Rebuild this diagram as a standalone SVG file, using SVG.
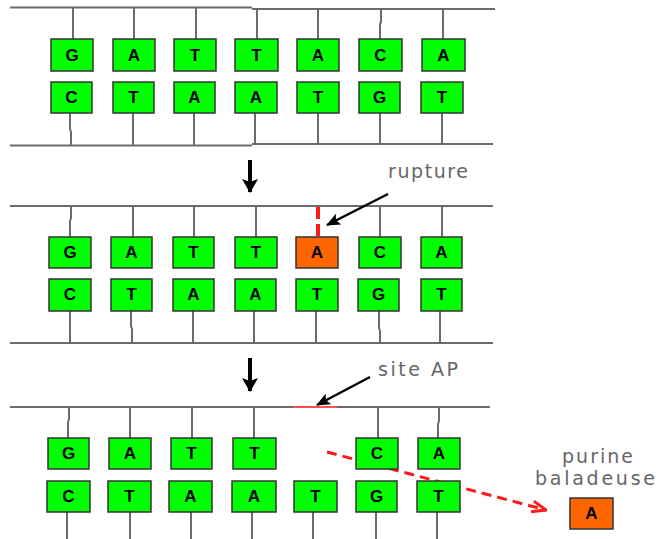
<svg xmlns="http://www.w3.org/2000/svg" width="659" height="539" viewBox="0 0 659 539">
  <style>
    .base rect { fill: #00ff00; stroke: #333; stroke-width: 1.5; }
    .base.lost rect { fill: #ff6600; }
    .base text { font-family: "Liberation Sans", Arial, sans-serif; font-weight: bold; font-size: 17px; fill: #000; text-anchor: middle; }
    .strand { stroke: #6b6b6b; stroke-width: 2; fill: none; }
    .label { font-family: "DejaVu Sans", Verdana, sans-serif; font-size: 19px; fill: #666; }
  </style>
  <defs>
    <marker id="blackHead" viewBox="0 0 14 12" refX="13" refY="6" markerWidth="14" markerHeight="12" markerUnits="userSpaceOnUse" orient="auto">
      <path d="M0,0 L14,6 L0,12 L3,6 z" fill="#000"/>
    </marker>
    <marker id="downHead" viewBox="0 0 14 16" refX="13" refY="8" markerWidth="14" markerHeight="16" markerUnits="userSpaceOnUse" orient="auto">
      <path d="M0,0 L14,8 L0,16 L3,8 z" fill="#000"/>
    </marker>
    <marker id="redHead" viewBox="0 0 16 14" refX="15" refY="7" markerWidth="16" markerHeight="14" markerUnits="userSpaceOnUse" orient="auto">
      <path d="M1,1.5 L15,7 L1,12.5" fill="none" stroke="#ff1a1a" stroke-width="3"/>
    </marker>
  </defs>
  <rect width="659" height="539" fill="#fff"/>

  <g id="connectors">
    <!-- panel 1: backbones and stems -->
    <path class="strand" d="M10,7.5 H252 M252,9 H495"/>
    <path class="strand" d="M10,145.5 H252 M252,144 H493"/>
    <path class="strand" d="M73,8 V39 M134,8 V39 M196,8 V39 M257,9 V39 M318,9 V39 M381,9 V22 L380,24 V39 M443,9 V39"/>
    <path class="strand" d="M70,113 V129 L71,132 V145 M133,113 V145 M194,113 V145 M255,113 V144 M318,113 V144 M380,113 V144 M442,113 V144"/>

    <!-- panel 2 -->
    <path class="strand" d="M10,206 H493"/>
    <path class="strand" d="M10,343 H493"/>
    <path class="strand" d="M71,206 V218 L70,221 V237 M133,206 V237 M194,206 V237 M256,206 V237 M380,206 V237 M442,206 V237"/>
    <path class="strand" d="M70,311 V343 M131,311 V326 L132,329 V343 M193,311 V343 M254,311 V343 M316,311 V343 M379,311 V328 L380,331 V343 M440,311 V343"/>
    <!-- broken glycosidic bond -->
    <line x1="318" y1="207" x2="318" y2="236" stroke="#ff1a1a" stroke-width="4" stroke-dasharray="12,5"/>

    <!-- panel 3 -->
    <path class="strand" d="M10,407 H293 M337,407 H490"/>
    <line x1="293" y1="407" x2="337" y2="407" stroke="#ff4d4d" stroke-width="2"/>
    <path class="strand" d="M69,407 V419 L68,422 V438 M130,407 V438 M192,407 V438 M254,407 V438 M378,407 V438 M439,407 V421 L438,424 V438"/>
    <path class="strand" d="M67,512 V539 M130,512 V539 M191,512 V539 M252,512 V539 M313,512 V539 M376,512 V539 M437,512 V539"/>

    <!-- step arrows -->
    <line x1="250" y1="160" x2="250" y2="192" stroke="#000" stroke-width="4" marker-end="url(#downHead)"/>
    <line x1="250" y1="358" x2="250" y2="391" stroke="#000" stroke-width="4" marker-end="url(#downHead)"/>

    <!-- label pointers -->
    <line x1="388" y1="194" x2="327" y2="225" stroke="#000" stroke-width="2.5" marker-end="url(#blackHead)"/>
    <line x1="370" y1="377" x2="317" y2="405" stroke="#000" stroke-width="2.5" marker-end="url(#blackHead)"/>

    <!-- released purine path -->
    <line x1="327" y1="452" x2="546" y2="510" stroke="#ff1a1a" stroke-width="3" stroke-dasharray="10,6" marker-end="url(#redHead)"/>
  </g>

  <!-- panel 1 bases -->
  <g id="p1-t1" class="base"><rect x="51" y="39" width="42" height="32"/><text x="72" y="61">G</text></g>
  <g id="p1-t2" class="base"><rect x="113" y="39" width="42" height="32"/><text x="134" y="61">A</text></g>
  <g id="p1-t3" class="base"><rect x="174" y="39" width="42" height="32"/><text x="195" y="61">T</text></g>
  <g id="p1-t4" class="base"><rect x="235" y="39" width="43" height="32"/><text x="256.5" y="61">T</text></g>
  <g id="p1-t5" class="base"><rect x="297" y="39" width="42" height="32"/><text x="318" y="61">A</text></g>
  <g id="p1-t6" class="base"><rect x="359" y="39" width="43" height="32"/><text x="380.5" y="61">C</text></g>
  <g id="p1-t7" class="base"><rect x="422" y="39" width="43" height="32"/><text x="443.5" y="61">A</text></g>
  <g id="p1-b1" class="base"><rect x="51" y="82" width="41" height="31"/><text x="71.5" y="103">C</text></g>
  <g id="p1-b2" class="base"><rect x="113" y="82" width="41" height="31"/><text x="133.5" y="103">T</text></g>
  <g id="p1-b3" class="base"><rect x="174" y="82" width="41" height="31"/><text x="194.5" y="103">A</text></g>
  <g id="p1-b4" class="base"><rect x="235" y="82" width="42" height="31"/><text x="256" y="103">A</text></g>
  <g id="p1-b5" class="base"><rect x="297" y="82" width="42" height="31"/><text x="318" y="103">T</text></g>
  <g id="p1-b6" class="base"><rect x="359" y="82" width="41" height="31"/><text x="379.5" y="103">G</text></g>
  <g id="p1-b7" class="base"><rect x="421" y="82" width="42" height="31"/><text x="442" y="103">T</text></g>

  <!-- panel 2 bases -->
  <g id="p2-t1" class="base"><rect x="49" y="237" width="42" height="31"/><text x="70" y="258">G</text></g>
  <g id="p2-t2" class="base"><rect x="111" y="237" width="41" height="31"/><text x="131.5" y="258">A</text></g>
  <g id="p2-t3" class="base"><rect x="173" y="237" width="41" height="31"/><text x="193.5" y="258">T</text></g>
  <g id="p2-t4" class="base"><rect x="235" y="237" width="42" height="31"/><text x="256" y="258">T</text></g>
  <g id="p2-t5" class="base lost"><rect x="296" y="237" width="42" height="31"/><text x="317" y="258">A</text></g>
  <g id="p2-t6" class="base"><rect x="359" y="237" width="42" height="31"/><text x="380" y="258">C</text></g>
  <g id="p2-t7" class="base"><rect x="421" y="237" width="41" height="31"/><text x="441.5" y="258">A</text></g>
  <g id="p2-b1" class="base"><rect x="49" y="279" width="42" height="32"/><text x="70" y="300">C</text></g>
  <g id="p2-b2" class="base"><rect x="111" y="279" width="41" height="32"/><text x="131.5" y="300">T</text></g>
  <g id="p2-b3" class="base"><rect x="173" y="279" width="41" height="32"/><text x="193.5" y="300">A</text></g>
  <g id="p2-b4" class="base"><rect x="235" y="279" width="41" height="32"/><text x="255.5" y="300">A</text></g>
  <g id="p2-b5" class="base"><rect x="296" y="279" width="42" height="32"/><text x="317" y="300">T</text></g>
  <g id="p2-b6" class="base"><rect x="358" y="279" width="41" height="32"/><text x="378.5" y="300">G</text></g>
  <g id="p2-b7" class="base"><rect x="421" y="279" width="41" height="32"/><text x="441.5" y="300">T</text></g>

  <!-- panel 3 bases -->
  <g id="p3-t1" class="base"><rect x="48" y="438" width="41" height="31"/><text x="68.5" y="459">G</text></g>
  <g id="p3-t2" class="base"><rect x="109" y="438" width="42" height="31"/><text x="130" y="459">A</text></g>
  <g id="p3-t3" class="base"><rect x="171" y="438" width="41" height="31"/><text x="191.5" y="459">T</text></g>
  <g id="p3-t4" class="base"><rect x="233" y="438" width="43" height="31"/><text x="254.5" y="459">T</text></g>
  <g id="p3-t6" class="base"><rect x="356" y="438" width="42" height="31"/><text x="377" y="459">C</text></g>
  <g id="p3-t7" class="base"><rect x="418" y="438" width="42" height="31"/><text x="439" y="459">A</text></g>
  <g id="p3-b1" class="base"><rect x="47" y="481" width="43" height="31"/><text x="68.5" y="502">C</text></g>
  <g id="p3-b2" class="base"><rect x="108" y="481" width="43" height="31"/><text x="129.5" y="502">T</text></g>
  <g id="p3-b3" class="base"><rect x="169" y="481" width="43" height="31"/><text x="190.5" y="502">A</text></g>
  <g id="p3-b4" class="base"><rect x="232" y="481" width="44" height="31"/><text x="254" y="502">A</text></g>
  <g id="p3-b5" class="base"><rect x="294" y="481" width="43" height="31"/><text x="315.5" y="502">T</text></g>
  <g id="p3-b6" class="base"><rect x="356" y="481" width="41" height="31"/><text x="376.5" y="502">G</text></g>
  <g id="p3-b7" class="base"><rect x="417" y="481" width="43" height="31"/><text x="438.5" y="502">T</text></g>

  <!-- free purine -->
  <g id="free-purine" class="base lost"><rect x="570" y="498" width="43" height="31"/><text x="591.5" y="519">A</text></g>

  <!-- labels -->
  <g id="labels">
    <text class="label" x="388" y="178" textLength="80" lengthAdjust="spacing">rupture</text>
    <text class="label" x="378" y="376" textLength="80" lengthAdjust="spacing">site AP</text>
    <text class="label" x="562" y="463" textLength="71" lengthAdjust="spacing">purine</text>
    <text class="label" x="535" y="485" textLength="120" lengthAdjust="spacing">baladeuse</text>
  </g>
</svg>
